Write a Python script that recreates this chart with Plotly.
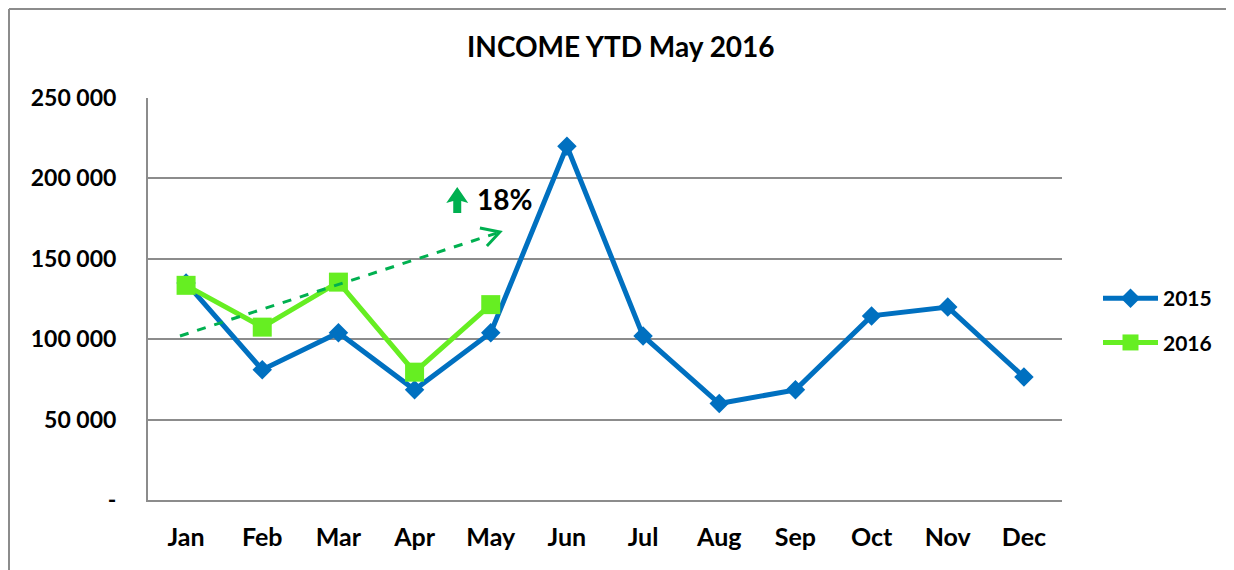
import plotly.graph_objects as go

months = ["Jan", "Feb", "Mar", "Apr", "May", "Jun", "Jul", "Aug", "Sep", "Oct", "Nov", "Dec"]
income_2015 = [135000, 81000, 104000, 68500, 104000, 220000, 102000, 60000, 68500, 114500, 120000, 76500]
income_2016 = [133500, 107500, 135500, 79500, 121500]
y_tickvals = [0, 50000, 100000, 150000, 200000, 250000]
y_ticktext = ["-", "50 000", "100 000", "150 000", "200 000", "250 000"]
title_text = "INCOME YTD May 2016"
growth_label = "18%"

FONT = "Lato"
BLUE = "#0070C0"
GREEN = "#66EE22"
DGREEN = "#00B050"
GRID = "#8C8C8C"

fig = go.Figure()
fig.add_trace(go.Scatter(
    x=months, y=income_2015, name="2015", mode="lines+markers",
    line=dict(color=BLUE, width=5),
    marker=dict(symbol="diamond", size=15, color=BLUE),
    legendgroup="a",
))
fig.add_trace(go.Scatter(
    x=months[:len(income_2016)], y=income_2016, name="2016", mode="lines+markers",
    line=dict(color=GREEN, width=5),
    marker=dict(symbol="square", size=19, color=GREEN),
    legendgroup="b",
))

OFF = 8  # default page body margin
W, H = 1234 - OFF, 570 - OFF
L, T = 148 - OFF, 98 - OFF
pw, ph = 914, 402
R = W - L - pw
B = H - T - ph

def px_x(p):
    return (p - OFF - L) / pw

def px_y(p):
    return (T + ph - (p - OFF)) / ph

shapes = []
# outer chart border (top and left visible)
shapes.append(dict(type="line", xref="paper", yref="paper", x0=px_x(9), x1=px_x(1240),
                   y0=px_y(9), y1=px_y(9), line=dict(color="#8C8C8C", width=2)))
shapes.append(dict(type="line", xref="paper", yref="paper", x0=px_x(9), x1=px_x(9),
                   y0=px_y(9), y1=px_y(580), line=dict(color="#8C8C8C", width=2)))
# dashed trend arrow
shapes.append(dict(type="line", xref="x", yref="y", x0=-0.08, y0=102000, x1=4.08, y1=166000,
                   line=dict(color=DGREEN, width=3, dash="dash")))
shapes.append(dict(type="path", xref="x", yref="y", xsizemode="pixel", ysizemode="pixel",
                   xanchor=4.12, yanchor=166700,
                   path="M -20 4 L 0 0 L -13 -14",
                   line=dict(color=DGREEN, width=3)))
# up arrow glyph
shapes.append(dict(type="path", xref="x", yref="y", xsizemode="pixel", ysizemode="pixel",
                   xanchor=3.56, yanchor=178500,
                   path="M -4 0 L 4 0 L 4 12 L 11 10 L 0 26 L -11 10 L -4 12 Z",
                   fillcolor=DGREEN, line=dict(color=DGREEN, width=0)))

fig.update_layout(
    width=W, height=H,
    margin=dict(l=L, r=R, t=T, b=B),
    paper_bgcolor="white", plot_bgcolor="white",
    font=dict(family=FONT, size=20, color="black"),
    showlegend=True,
    legend=dict(x=px_x(1098), y=px_y(278), xanchor="left", yanchor="top",
                font=dict(family=FONT, size=21, color="black", weight="bold"),
                itemwidth=55, tracegroupgap=14, traceorder="grouped",
                bgcolor="rgba(0,0,0,0)"),
    xaxis=dict(type="category", range=[-0.5, 11.5], showgrid=False,
               showline=True, linecolor=GRID, linewidth=2,
               tickfont=dict(family=FONT, size=25, color="black", weight="bold"),
               ticks="", ticklabelstandoff=14, fixedrange=True),
    yaxis=dict(range=[0, 250000], tickvals=y_tickvals, ticktext=y_ticktext,
               showgrid=True, gridcolor=GRID, gridwidth=2,
               showline=True, linecolor=GRID, linewidth=2, zeroline=False,
               tickfont=dict(family=FONT, size=23, color="black", weight="bold"),
               ticks="", ticklabelstandoff=25, fixedrange=True),
    shapes=shapes,
    annotations=[
        dict(text="<b>" + title_text + "</b>", xref="paper", yref="paper",
             x=px_x(621), y=px_y(46), xanchor="center", yanchor="middle", showarrow=False,
             font=dict(family=FONT, size=28, color="black")),
        dict(text="<b>" + growth_label + "</b>", xref="x", yref="y",
             x=3.79, y=187500, xanchor="left", yanchor="middle", showarrow=False,
             font=dict(family=FONT, size=28, color="black")),
    ],
)

fig.write_html("out.html")
